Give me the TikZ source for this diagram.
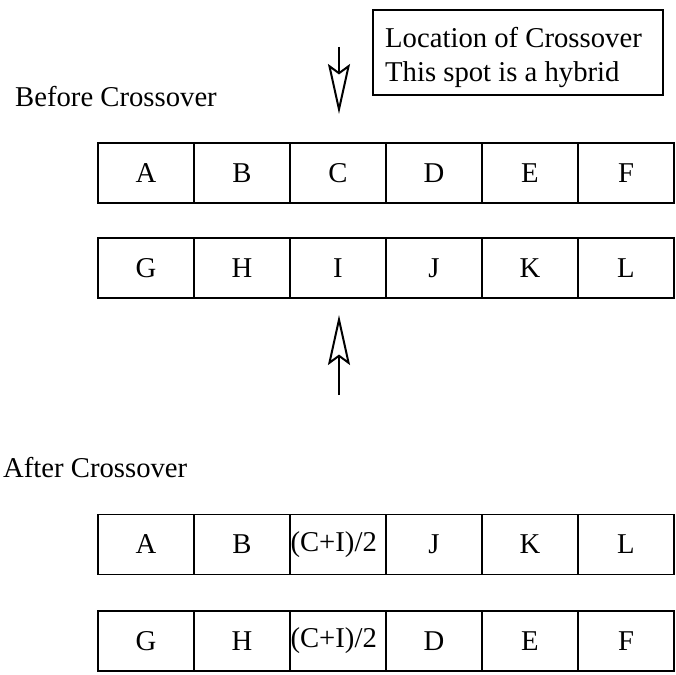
\documentclass[tikz,border=0pt]{standalone}
\usepackage{fontspec}
\setmainfont{Liberation Serif}
\usetikzlibrary{arrows.meta}
\begin{document}
\begin{tikzpicture}[x=1bp,y=-1bp,
  txt/.style={font=\fontsize{28.8}{34}\selectfont},
  cell/.style={txt, draw, line width=1.3bp, minimum width=96bp, minimum height=60bp, inner sep=0pt},
  lbl/.style={txt, inner sep=0pt, anchor=base west},
  hyb/.style={txt, inner sep=0pt, anchor=west},
  callbox/.style={draw, line width=2bp, minimum width=290bp, minimum height=85bp, inner sep=0pt},
  openarrow/.style={line width=1.3bp, -{Stealth[open, length=50bp, width=22bp, inset=8bp, line width=2bp]}}]
\useasboundingbox (0,0) rectangle (675,675);

% labels
\node[lbl] (before) at (15,107) {Before Crossover};
\node[lbl] (after) at (3,477) {After Crossover};

% callout
\node[callbox] (callout) at (518,52.5) {};
\node[lbl] (loc1) at (385,48) {Location of Crossover};
\node[lbl] (loc2) at (385,82) {This spot is a hybrid};

% rows
\foreach \t [count=\i] in {A,B,C,D,E,F}
  \node[cell] (r1c\i) at ({98+96*(\i-0.5)},173) {\t};
\foreach \t [count=\i] in {G,H,I,J,K,L}
  \node[cell] (r2c\i) at ({98+96*(\i-0.5)},268) {\t};
\foreach \t [count=\i] in {A,B,{},J,K,L}
  \node[cell] (r3c\i) at ({98+96*(\i-0.5)},544.5) {\t};
\foreach \t [count=\i] in {G,H,{},D,E,F}
  \node[cell] (r4c\i) at ({98+96*(\i-0.5)},641) {\t};
\node[hyb] (hyb1) at ([xshift=1bp]r3c3.west) {(C+I)/2};
\node[hyb] (hyb2) at ([xshift=1bp]r4c3.west) {(C+I)/2};

% arrows
\coordinate (dtop) at (339,47);
\coordinate (dtip) at (339,114);
\draw[openarrow] (dtop) -- (dtip);
\coordinate (ubot) at (339,395);
\coordinate (utip) at (339,315);
\draw[openarrow] (ubot) -- (utip);
\end{tikzpicture}
\end{document}
